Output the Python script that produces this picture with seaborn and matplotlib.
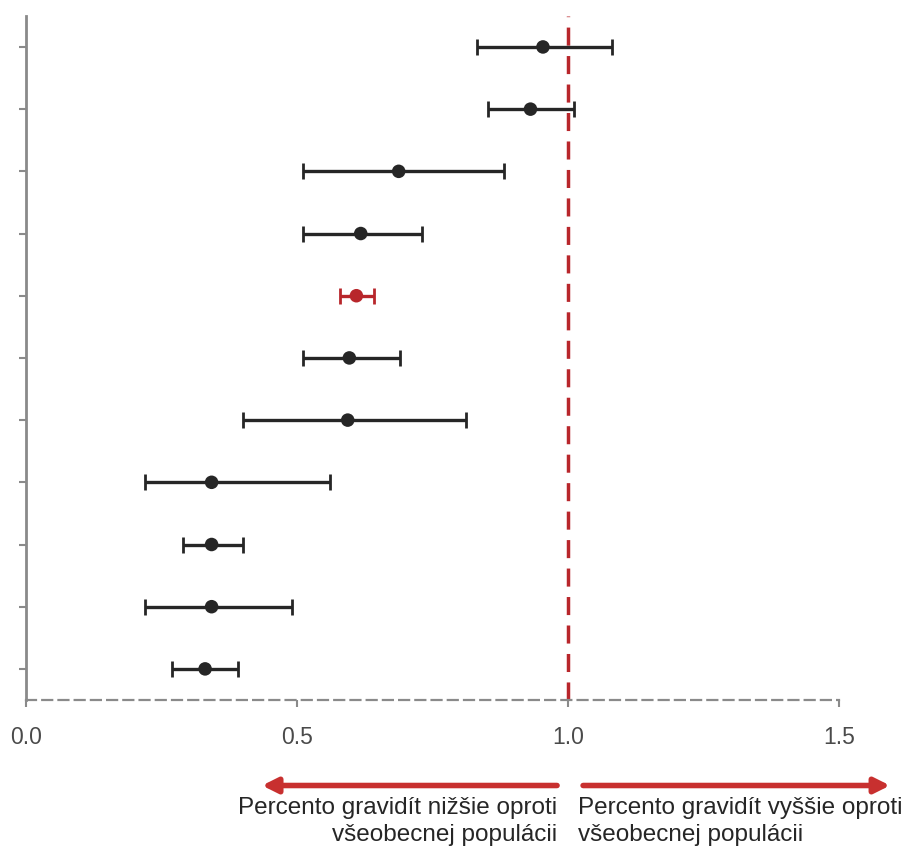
import matplotlib
matplotlib.use("Agg")
import matplotlib.pyplot as plt
from matplotlib import font_manager
import seaborn as sns
import pandas as pd

rows = list(range(1, 12))
point = [0.954, 0.931, 0.688, 0.618, 0.610, 0.597, 0.594, 0.343, 0.343, 0.343, 0.331]
lower = [0.832, 0.852, 0.511, 0.511, 0.580, 0.511, 0.401, 0.220, 0.290, 0.220, 0.270]
upper = [1.081, 1.011, 0.882, 0.731, 0.642, 0.691, 0.812, 0.561, 0.401, 0.491, 0.391]
highlight = [False, False, False, False, True, False, False, False, False, False, False]
xticks = [0.0, 0.5, 1.0, 1.5]
xticklabels = ["0.0", "0.5", "1.0", "1.5"]
left_lines = ["Percento gravidít nižšie oproti", "všeobecnej populácii"]
right_lines = ["Percento gravidít vyššie oproti", "všeobecnej populácii"]

df = pd.DataFrame({"row": rows, "point": point, "lower": lower, "upper": upper,
                   "group": ["hl" if h else "base" for h in highlight]})

sns.set_style("white")
names = {f.name for f in font_manager.fontManager.ttflist}
fam = "Liberation Sans Narrow" if "Liberation Sans Narrow" in names else "Liberation Sans"
plt.rcParams["font.family"] = [fam, "DejaVu Sans"]

BLACK = "#262626"
RED = "#b8262b"
GRAY = "#8a8a8a"

fig = plt.figure(figsize=(9.14, 8.66), dpi=100)
ax = fig.add_axes([0.028, 0.1917, 0.890, 0.790])

for _, r in df.iterrows():
    c = RED if r["group"] == "hl" else BLACK
    ax.errorbar(r["point"], r["row"],
                xerr=[[r["point"] - r["lower"]], [r["upper"] - r["point"]]],
                fmt="none", ecolor=c, elinewidth=2.4, capsize=6, capthick=2.0, zorder=3)

sns.scatterplot(data=df, x="point", y="row", hue="group",
                palette={"base": BLACK, "hl": RED}, s=95, edgecolor="none",
                legend=False, ax=ax, zorder=4)

ax.axvline(1.0, color=RED, lw=2.5, ls=(0, (5.2, 3.0)), zorder=2)

ax.set_xlim(0, 1.5)
ax.set_ylim(11.5, 0.5)
ax.set_yticks(rows)
ax.set_yticklabels([])
ax.set_xticks(xticks)
ax.set_xticklabels(xticklabels)
ax.set_xlabel("")
ax.set_ylabel("")

for s in ["top", "right"]:
    ax.spines[s].set_visible(False)
ax.spines["left"].set_color(GRAY)
ax.spines["left"].set_linewidth(2)
ax.spines["bottom"].set_color(GRAY)
ax.spines["bottom"].set_linewidth(1.6)
ax.spines["bottom"].set_linestyle((0, (4.5, 2.8)))

ax.tick_params(axis="y", length=5, width=1.5, color=GRAY, direction="out", left=True)
ax.tick_params(axis="x", length=5, width=1.5, color=GRAY, direction="out", bottom=True,
               labelsize=16.5, labelcolor="#4a4a4a", pad=14)

arrow_kw = dict(arrowstyle="-|>,head_length=0.9,head_width=0.45", color="#c8302f", lw=4,
                shrinkA=0, shrinkB=0)
ax.annotate("", xy=(0.436, -0.125), xytext=(0.980, -0.125), xycoords=("data", "axes fraction"),
            textcoords=("data", "axes fraction"), arrowprops=arrow_kw, annotation_clip=False)
ax.annotate("", xy=(1.594, -0.125), xytext=(1.028, -0.125), xycoords=("data", "axes fraction"),
            textcoords=("data", "axes fraction"), arrowprops=arrow_kw, annotation_clip=False)

tr = ax.get_xaxis_transform()
for i, yy in enumerate([-0.158, -0.198]):
    ax.text(0.980, yy, left_lines[i], transform=tr, ha="right", va="center",
            fontsize=17.5, color=BLACK)
    ax.text(1.018, yy, right_lines[i], transform=tr, ha="left", va="center",
            fontsize=17.5, color=BLACK)

fig.savefig("out.png", dpi=100)
